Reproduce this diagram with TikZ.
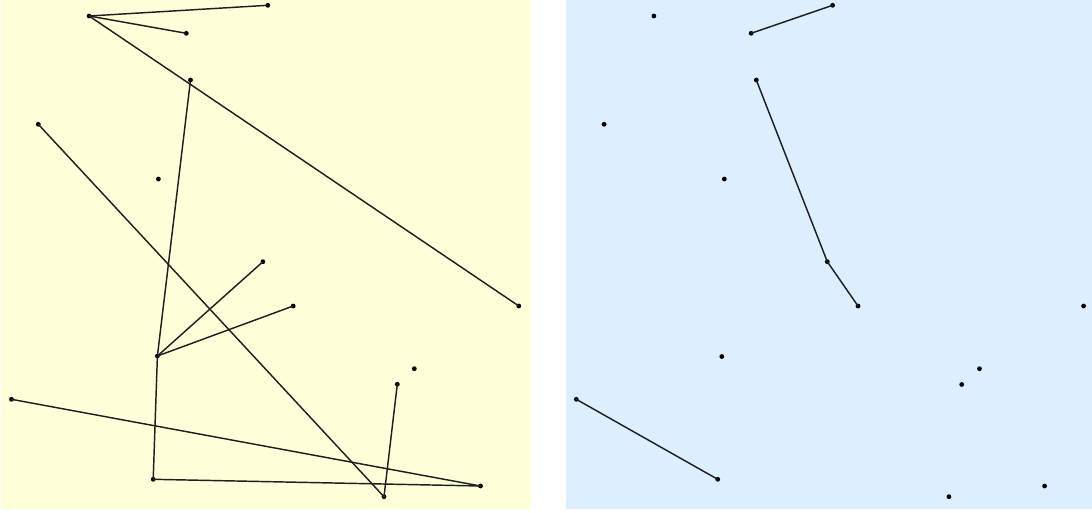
\documentclass[tikz,border=0pt]{standalone}
\begin{document}
\begin{tikzpicture}[x=1pt,y=-1pt,
  pt/.style={circle,fill=black,inner sep=0pt,minimum size=4.8pt},
  edge/.style={draw=black!88,line width=1.45pt}]
\definecolor{panelY}{RGB}{255,255,218}
\definecolor{panelB}{RGB}{220,238,255}
\useasboundingbox (0,0) rectangle (1092,512);
\fill[white] (0,0) rectangle (1092,512);
\fill[panelY] (1,0) rectangle (531,509);
\fill[panelB] (566,0) rectangle (1092,509);
% left panel
\node[pt] (A) at (89.1,16) {};
\node[pt] (B) at (267.8,5.3) {};
\node[pt] (C) at (186.3,33.3) {};
\node[pt] (D) at (190.5,80) {};
\node[pt] (E) at (38.3,124.3) {};
\node[pt] (F) at (158.4,179) {};
\node[pt] (G) at (262.9,261.7) {};
\node[pt] (H) at (293.2,306) {};
\node[pt] (I) at (518.8,306) {};
\node[pt] (J) at (157.4,356) {};
\node[pt] (K) at (414.3,368.7) {};
\node[pt] (L) at (397.3,384.3) {};
\node[pt] (M) at (11.5,399.3) {};
\node[pt] (N) at (153.2,479.3) {};
\node[pt] (O) at (480.5,486) {};
\node[pt] (P) at (384,496.7) {};
\draw[edge] (A.center) -- (B.center);
\draw[edge] (A.center) -- (C.center);
\draw[edge] (A.center) -- (I.center);
\draw[edge] (D.center) -- (J.center);
\draw[edge] (E.center) -- (P.center);
\draw[edge] (J.center) -- (G.center);
\draw[edge] (J.center) -- (H.center);
\draw[edge] (J.center) -- (N.center);
\draw[edge] (M.center) -- (O.center);
\draw[edge] (N.center) -- (O.center);
\draw[edge] (L.center) -- (P.center);
% right panel
\node[pt] (a) at (653.9,16) {};
\node[pt] (b) at (832.6,5.3) {};
\node[pt] (c) at (751.1,33.3) {};
\node[pt] (d) at (756.3,80) {};
\node[pt] (e) at (604.1,124.3) {};
\node[pt] (f) at (724.3,179) {};
\node[pt] (g) at (827.3,261.7) {};
\node[pt] (h) at (858,306) {};
\node[pt] (i) at (1083.6,306) {};
\node[pt] (j) at (721.8,356.5) {};
\node[pt] (k) at (979.5,368.7) {};
\node[pt] (l) at (961.7,384.5) {};
\node[pt] (m) at (576.3,399.3) {};
\node[pt] (n) at (717.7,479.3) {};
\node[pt] (o) at (1044.6,486) {};
\node[pt] (p) at (948.9,496.7) {};
\draw[edge] (c.center) -- (b.center);
\draw[edge] (d.center) -- (g.center);
\draw[edge] (g.center) -- (h.center);
\draw[edge] (m.center) -- (n.center);
\end{tikzpicture}
\end{document}
